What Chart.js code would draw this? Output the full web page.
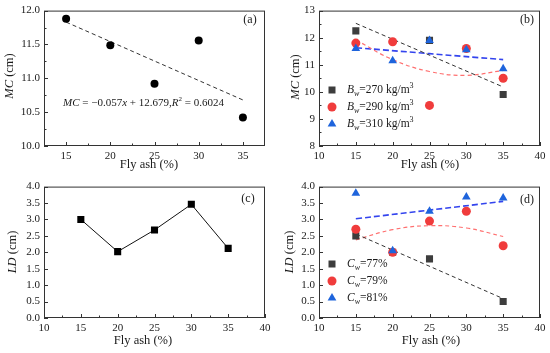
<!DOCTYPE html>
<html>
<head>
<meta charset="utf-8">
<script src="https://cdn.jsdelivr.net/npm/chart.js@4/dist/chart.umd.min.js"></script>
<style>
  body { margin: 0; background: #fff; }
  #wrap { position: relative; width: 550px; height: 353px; }
  .panel { position: absolute; width: 275px; }
</style>
</head>
<body>
<div id="wrap">
  <div class="panel" style="left:0;top:0;height:176px"><canvas id="chartA"></canvas></div>
  <div class="panel" style="left:275px;top:0;height:176px"><canvas id="chartB"></canvas></div>
  <div class="panel" style="left:0;top:176px;height:177px"><canvas id="chartC"></canvas></div>
  <div class="panel" style="left:275px;top:176px;height:177px"><canvas id="chartD"></canvas></div>
</div>
<script>
// values
const flyAsh = [15, 20, 25, 30, 35];
const fitEnds = [15, 35];

const mcA = [11.88, 11.49, 10.92, 11.56, 10.42];
const mcFitA = [11.83, 10.68];

const mcB270 = [12.25, null, 11.9, null, 9.9];
const mcB290 = [11.8, 11.85, 9.5, 11.6, 10.5];
const mcB310 = [11.6, 11.15, 11.9, 11.55, 10.85];
const mcFit270 = [12.53, 10.18];
const mcFit290 = [11.92, 11.19, 10.75, 10.61, 10.79];
const mcFit310 = [11.63, 11.19];

const ldC = [3.0, 2.02, 2.68, 3.46, 2.12];

const ld77 = [2.5, 2.0, 1.8, null, 0.5];
const ld79 = [2.7, 2.0, 2.95, 3.25, 2.2];
const ld81 = [3.8, 2.05, 3.25, 3.68, 3.65];
const ldFit77 = [2.56, 0.59];
const ldFit79 = [2.38, 2.69, 2.81, 2.74, 2.48];
const ldFit81 = [3.02, 3.55];

// tick labels
const xTicksA = [15, 20, 25, 30, 35];
const xMinorA = [17.5, 22.5, 27.5, 32.5];
const xTicks = [10, 15, 20, 25, 30, 35, 40];
const xMinor = [12.5, 17.5, 22.5, 27.5, 32.5, 37.5];
const yTicksA = [10.0, 10.5, 11.0, 11.5, 12.0];
const yMinorA = [10.25, 10.75, 11.25, 11.75];
const yTicksB = [8, 9, 10, 11, 12, 13];
const yMinorB = [8.5, 9.5, 10.5, 11.5, 12.5];
const yTicksLD = [0.0, 0.5, 1.0, 1.5, 2.0, 2.5, 3.0, 3.5, 4.0];

const FONT = '"Liberation Serif", "DejaVu Serif", serif';
const GRAY = '#3d3d3d';
const RED = '#f03c3c';
const BLUE = '#1e64dc';

const pts = (xs, ys) => xs.map((x, i) => ({ x: x, y: ys[i] }));

function drawRich(ctx, parts, x, y, size, align) {
  const fontFor = p => (p[1] && p[1].includes('i') ? 'italic ' : '') +
    ((p[1] && (p[1].includes('sub') || p[1].includes('sup'))) ? Math.round(size * 0.68) : size) + 'px ' + FONT;
  let w = 0;
  parts.forEach(p => { ctx.font = fontFor(p); w += ctx.measureText(p[0]).width; });
  let cx = align === 'center' ? x - w / 2 : x;
  ctx.textAlign = 'left';
  ctx.textBaseline = 'middle';
  parts.forEach(p => {
    ctx.font = fontFor(p);
    let dy = 0;
    if (p[1] && p[1].includes('sub')) dy = size * 0.3;
    if (p[1] && p[1].includes('sup')) dy = -size * 0.35;
    ctx.fillText(p[0], cx, y + dy);
    cx += ctx.measureText(p[0]).width;
  });
}

function drawMarker(ctx, shape, color, x, y, r) {
  ctx.fillStyle = color;
  ctx.beginPath();
  if (shape === 'rect') {
    ctx.rect(x - r * 0.7, y - r * 0.7, r * 1.4, r * 1.4);
  } else if (shape === 'circle') {
    ctx.arc(x, y, r * 0.9, 0, Math.PI * 2);
  } else {
    ctx.moveTo(x, y - r);
    ctx.lineTo(x + r * 0.87, y + r * 0.5);
    ctx.lineTo(x - r * 0.87, y + r * 0.5);
    ctx.closePath();
  }
  ctx.fill();
}

// box, inward ticks, titles, legend
const decor = {
  id: 'decor',
  beforeDatasetsDraw(chart, args, o) {
    const ctx = chart.ctx, a = chart.chartArea;
    const xs = chart.scales.x, ys = chart.scales.y;
    ctx.save();
    ctx.strokeStyle = '#333';
    ctx.lineWidth = 1;
    ctx.strokeRect(a.left + 0.5, a.top + 0.5, a.right - a.left - 1, a.bottom - a.top - 1);
    ctx.beginPath();
    xs.ticks.forEach(t => { const px = Math.round(xs.getPixelForValue(t.value)) + 0.5; ctx.moveTo(px, a.bottom); ctx.lineTo(px, a.bottom - 4); });
    (o.xMinor || []).forEach(v => { const px = Math.round(xs.getPixelForValue(v)) + 0.5; ctx.moveTo(px, a.bottom); ctx.lineTo(px, a.bottom - 2.5); });
    ys.ticks.forEach(t => { const py = Math.round(ys.getPixelForValue(t.value)) + 0.5; ctx.moveTo(a.left, py); ctx.lineTo(a.left + 4, py); });
    (o.yMinor || []).forEach(v => { const py = Math.round(ys.getPixelForValue(v)) + 0.5; ctx.moveTo(a.left, py); ctx.lineTo(a.left + 2.5, py); });
    ctx.stroke();
    ctx.restore();
  },
  afterDraw(chart, args, o) {
    const ctx = chart.ctx;
    ctx.save();
    ctx.fillStyle = '#1a1a1a';
    drawRich(ctx, [['Fly ash (%)']], o.xTitle[0], o.xTitle[1], 12.5, 'center');
    ctx.save();
    ctx.translate(o.yTitle[0], o.yTitle[1]);
    ctx.rotate(-Math.PI / 2);
    drawRich(ctx, o.yTitle[2], 0, 0, 12.5, 'center');
    ctx.restore();
    drawRich(ctx, [[o.tag[2]]], o.tag[0], o.tag[1], 12, 'center');
    (o.notes || []).forEach(n => drawRich(ctx, n.parts, n.x, n.y, 11, 'left'));
    (o.legend || []).forEach(l => {
      drawMarker(ctx, l.shape, l.color, 57, l.y, 5);
      ctx.fillStyle = '#1a1a1a';
      drawRich(ctx, l.parts, 72, l.y, 11.5, 'left');
    });
    ctx.restore();
  }
};

function axis(min, max, ticks, decimals, size, horizontal) {
  return {
    type: 'linear',
    min: min,
    max: max,
    afterBuildTicks: s => { s.ticks = ticks.map(v => ({ value: v })); },
    afterFit: s => { if (horizontal) { s.height = size; } else { s.width = size; } },
    grid: { display: false, drawTicks: false },
    border: { display: false },
    ticks: {
      padding: 4,
      color: '#1a1a1a',
      font: { family: FONT, size: 11 },
      callback: v => v.toFixed(decimals)
    }
  };
}

function pointSet(ys, shape, color, r, order) {
  return {
    data: pts(flyAsh, ys),
    pointStyle: shape,
    pointRadius: r,
    pointBackgroundColor: color,
    pointBorderWidth: 0,
    showLine: false,
    order: order
  };
}

function fitSet(xs, ys, color, dash, width) {
  return {
    data: pts(xs, ys),
    showLine: true,
    pointRadius: 0,
    borderColor: color,
    borderWidth: width,
    borderDash: dash,
    tension: 0.4,
    fill: false,
    order: 10
  };
}

function makeChart(id, datasets, scales, decorOpts, padTop) {
  return new Chart(document.getElementById(id), {
    type: 'scatter',
    data: { datasets: datasets },
    options: {
      responsive: true,
      maintainAspectRatio: false,
      animation: false,
      layout: { padding: { top: padTop, right: 10, left: 0, bottom: 0 } },
      scales: scales,
      plugins: { legend: { display: false }, tooltip: { enabled: false }, decor: decorOpts }
    },
    plugins: [decor]
  });
}

// (a)
makeChart('chartA', [
  pointSet(mcA, 'circle', '#000', 4, 1),
  fitSet(fitEnds, mcFitA, '#333', [4, 3], 1)
], {
  x: axis(12.5, 37.5, xTicksA, 0, 30, true),
  y: axis(10, 12, yTicksA, 1, 44, false)
}, {
  xMinor: xMinorA, yMinor: yMinorA,
  xTitle: [149, 165],
  yTitle: [10, 76, [['MC', 'i'], [' (cm)']]],
  tag: [250, 20, '(a)'],
  notes: [{ x: 63, y: 103, parts: [['MC', 'i'], [' = \u22120.057'], ['x', 'i'], [' + 12.679,'], ['R', 'i'], ['2', 'sup'], [' = 0.6024']] }]
}, 6);

// (b)
makeChart('chartB', [
  pointSet(mcB310, 'triangle', BLUE, 5, 1),
  pointSet(mcB290, 'circle', RED, 4.5, 2),
  pointSet(mcB270, 'rect', GRAY, 5, 3),
  fitSet(fitEnds, mcFit270, '#333', [4, 3], 1),
  fitSet(flyAsh, mcFit290, '#ff7070', [4, 3], 1.2),
  fitSet(fitEnds, mcFit310, '#3344ee', [6, 3], 1.6)
], {
  x: axis(10, 40, xTicks, 0, 30, true),
  y: axis(8, 13, yTicksB, 0, 44, false)
}, {
  xMinor: xMinor, yMinor: yMinorB,
  xTitle: [155, 165],
  yTitle: [21, 77, [['MC', 'i'], [' (cm)']]],
  tag: [252, 20, '(b)'],
  legend: [
    { shape: 'rect', color: GRAY, y: 90, parts: [['B', 'i'], ['w', 'i sub'], ['=270 kg/m'], ['3', 'sup']] },
    { shape: 'circle', color: RED, y: 107, parts: [['B', 'i'], ['w', 'i sub'], ['=290 kg/m'], ['3', 'sup']] },
    { shape: 'triangle', color: BLUE, y: 124, parts: [['B', 'i'], ['w', 'i sub'], ['=310 kg/m'], ['3', 'sup']] }
  ]
}, 9);

// (c)
makeChart('chartC', [
  {
    data: pts(flyAsh, ldC),
    showLine: true,
    borderColor: '#111',
    borderWidth: 1,
    tension: 0,
    pointStyle: 'rect',
    pointRadius: 5,
    pointBackgroundColor: '#000',
    pointBorderWidth: 0
  }
], {
  x: axis(10, 40, xTicks, 0, 35, true),
  y: axis(0, 4, yTicksLD, 1, 44, false)
}, {
  xMinor: xMinor,
  xTitle: [143, 165],
  yTitle: [13, 76, [['LD', 'i'], [' (cm)']]],
  tag: [248, 23, '(c)']
}, 6);

// (d)
makeChart('chartD', [
  pointSet(ld81, 'triangle', BLUE, 5, 1),
  pointSet(ld79, 'circle', RED, 4.5, 2),
  pointSet(ld77, 'rect', GRAY, 5, 3),
  fitSet(fitEnds, ldFit77, '#333', [4, 3], 1),
  fitSet(flyAsh, ldFit79, '#ff7070', [4, 3], 1.2),
  fitSet(fitEnds, ldFit81, '#3344ee', [6, 3], 1.6)
], {
  x: axis(10, 40, xTicks, 0, 35, true),
  y: axis(0, 4, yTicksLD, 1, 44, false)
}, {
  xMinor: xMinor,
  xTitle: [156, 165],
  yTitle: [15, 76, [['LD', 'i'], [' (cm)']]],
  tag: [252, 24, '(d)'],
  legend: [
    { shape: 'rect', color: GRAY, y: 88, parts: [['C', 'i'], ['w', 'i sub'], ['=77%']] },
    { shape: 'circle', color: RED, y: 105, parts: [['C', 'i'], ['w', 'i sub'], ['=79%']] },
    { shape: 'triangle', color: BLUE, y: 122, parts: [['C', 'i'], ['w', 'i sub'], ['=81%']] }
  ]
}, 6);
</script>
</body>
</html>
